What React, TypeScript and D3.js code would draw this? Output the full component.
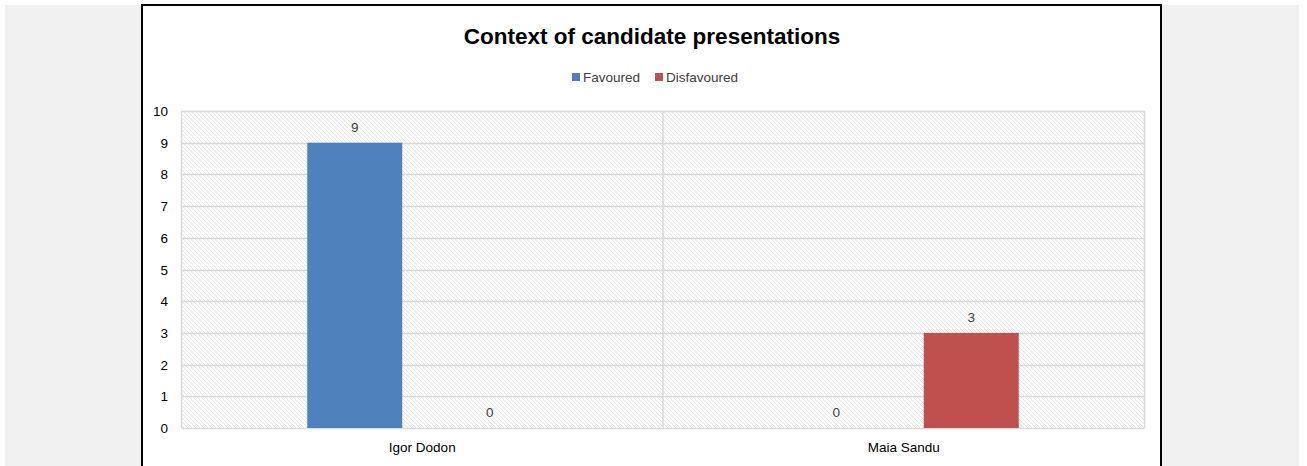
import React from "react";
import * as d3 from "d3";

const categories = ["Igor Dodon", "Maia Sandu"];
const seriesNames = ["Favoured", "Disfavoured"];
const favoured = [9, 0];
const disfavoured = [0, 3];
const yTicks = [0, 1, 2, 3, 4, 5, 6, 7, 8, 9, 10];
const colors = ["#4f81bd", "#c0504d"];
const title = "Context of candidate presentations";

const W = 1307;
const H = 466;
const plot = { left: 181.5, right: 1144.5, top: 111, bottom: 428 };
const FONT = "'Liberation Sans', Arial, sans-serif";

export default function App() {
  const values = [favoured, disfavoured];
  const x0 = d3.scaleBand<string>().domain(categories).range([plot.left, plot.right]).paddingInner(0).paddingOuter(0);
  const groupW = 230;
  const x1 = d3.scaleBand<string>().domain(seriesNames).range([0, groupW]).paddingInner(40 / 135).paddingOuter(0);
  const y = d3.scaleLinear().domain([0, 10]).range([plot.bottom, plot.top]);
  const groupOffset = (x0.bandwidth() - groupW) / 2;

  return (
    <svg width={W} height={H} style={{ position: "absolute", left: 0, top: 0, background: "#ffffff" }} fontFamily={FONT}>
      <defs>
        <pattern id="hatch" patternUnits="userSpaceOnUse" width={4} height={4}>
          <rect width={4} height={4} fill="#ffffff" />
          <path d="M-1,-1 L5,5 M3,-1 L5,1 M-1,3 L1,5" stroke="#e2e2e2" strokeWidth={0.9} />
        </pattern>
      </defs>
      <rect x={5} y={5} width={1294} height={H - 5} fill="#f1f1f1" />
      <rect x={142} y={5} width={1019} height={H} fill="#ffffff" stroke="#000000" strokeWidth={2} />

      <text x={652} y={44} textAnchor="middle" fontSize={22.5} fontWeight="bold" fill="#000">{title}</text>

      {/* legend */}
      {[{ x: 572, name: seriesNames[0], c: colors[0] }, { x: 655, name: seriesNames[1], c: colors[1] }].map((l) => (
        <g key={l.name}>
          <rect x={l.x} y={73} width={8} height={8} fill={l.c} />
          <text x={l.x + 11} y={82} fontSize={13.5} fill="#404040">{l.name}</text>
        </g>
      ))}

      {/* plot background */}
      <rect x={plot.left} y={plot.top} width={plot.right - plot.left} height={plot.bottom - plot.top} fill="url(#hatch)" />
      {yTicks.map((t) => (
        <line key={t} x1={plot.left} x2={plot.right} y1={Math.round(y(t)) + 0.5} y2={Math.round(y(t)) + 0.5} stroke="#d9d9d9" strokeWidth={1.5} />
      ))}
      {categories.map((c) => (
        <line key={c} x1={x0(c)!} x2={x0(c)!} y1={plot.top} y2={plot.bottom} stroke="#d9d9d9" strokeWidth={1.5} />
      ))}
      <line x1={plot.right} x2={plot.right} y1={plot.top} y2={plot.bottom} stroke="#d9d9d9" strokeWidth={1.5} />

      {/* y tick labels */}
      {yTicks.map((t) => (
        <text key={t} x={168} y={y(t) + 5} textAnchor="end" fontSize={13.5} fill="#000">{t}</text>
      ))}

      {/* bars */}
      {categories.map((c, ci) => (
        <g key={c}>
          {seriesNames.map((s, si) => {
            const v = values[si][ci];
            const bx = x0(c)! + groupOffset + x1(s)!;
            const by = y(v);
            return (
              <g key={s}>
                {v > 0 && <rect x={bx} y={by} width={x1.bandwidth()} height={plot.bottom - by} fill={colors[si]} />}
                <text x={bx + x1.bandwidth() / 2} y={by - 11} textAnchor="middle" fontSize={13.5} fill="#404040">{v}</text>
              </g>
            );
          })}
          <text x={x0(c)! + x0.bandwidth() / 2} y={452} textAnchor="middle" fontSize={13.5} fill="#000">{c}</text>
        </g>
      ))}
    </svg>
  );
}
